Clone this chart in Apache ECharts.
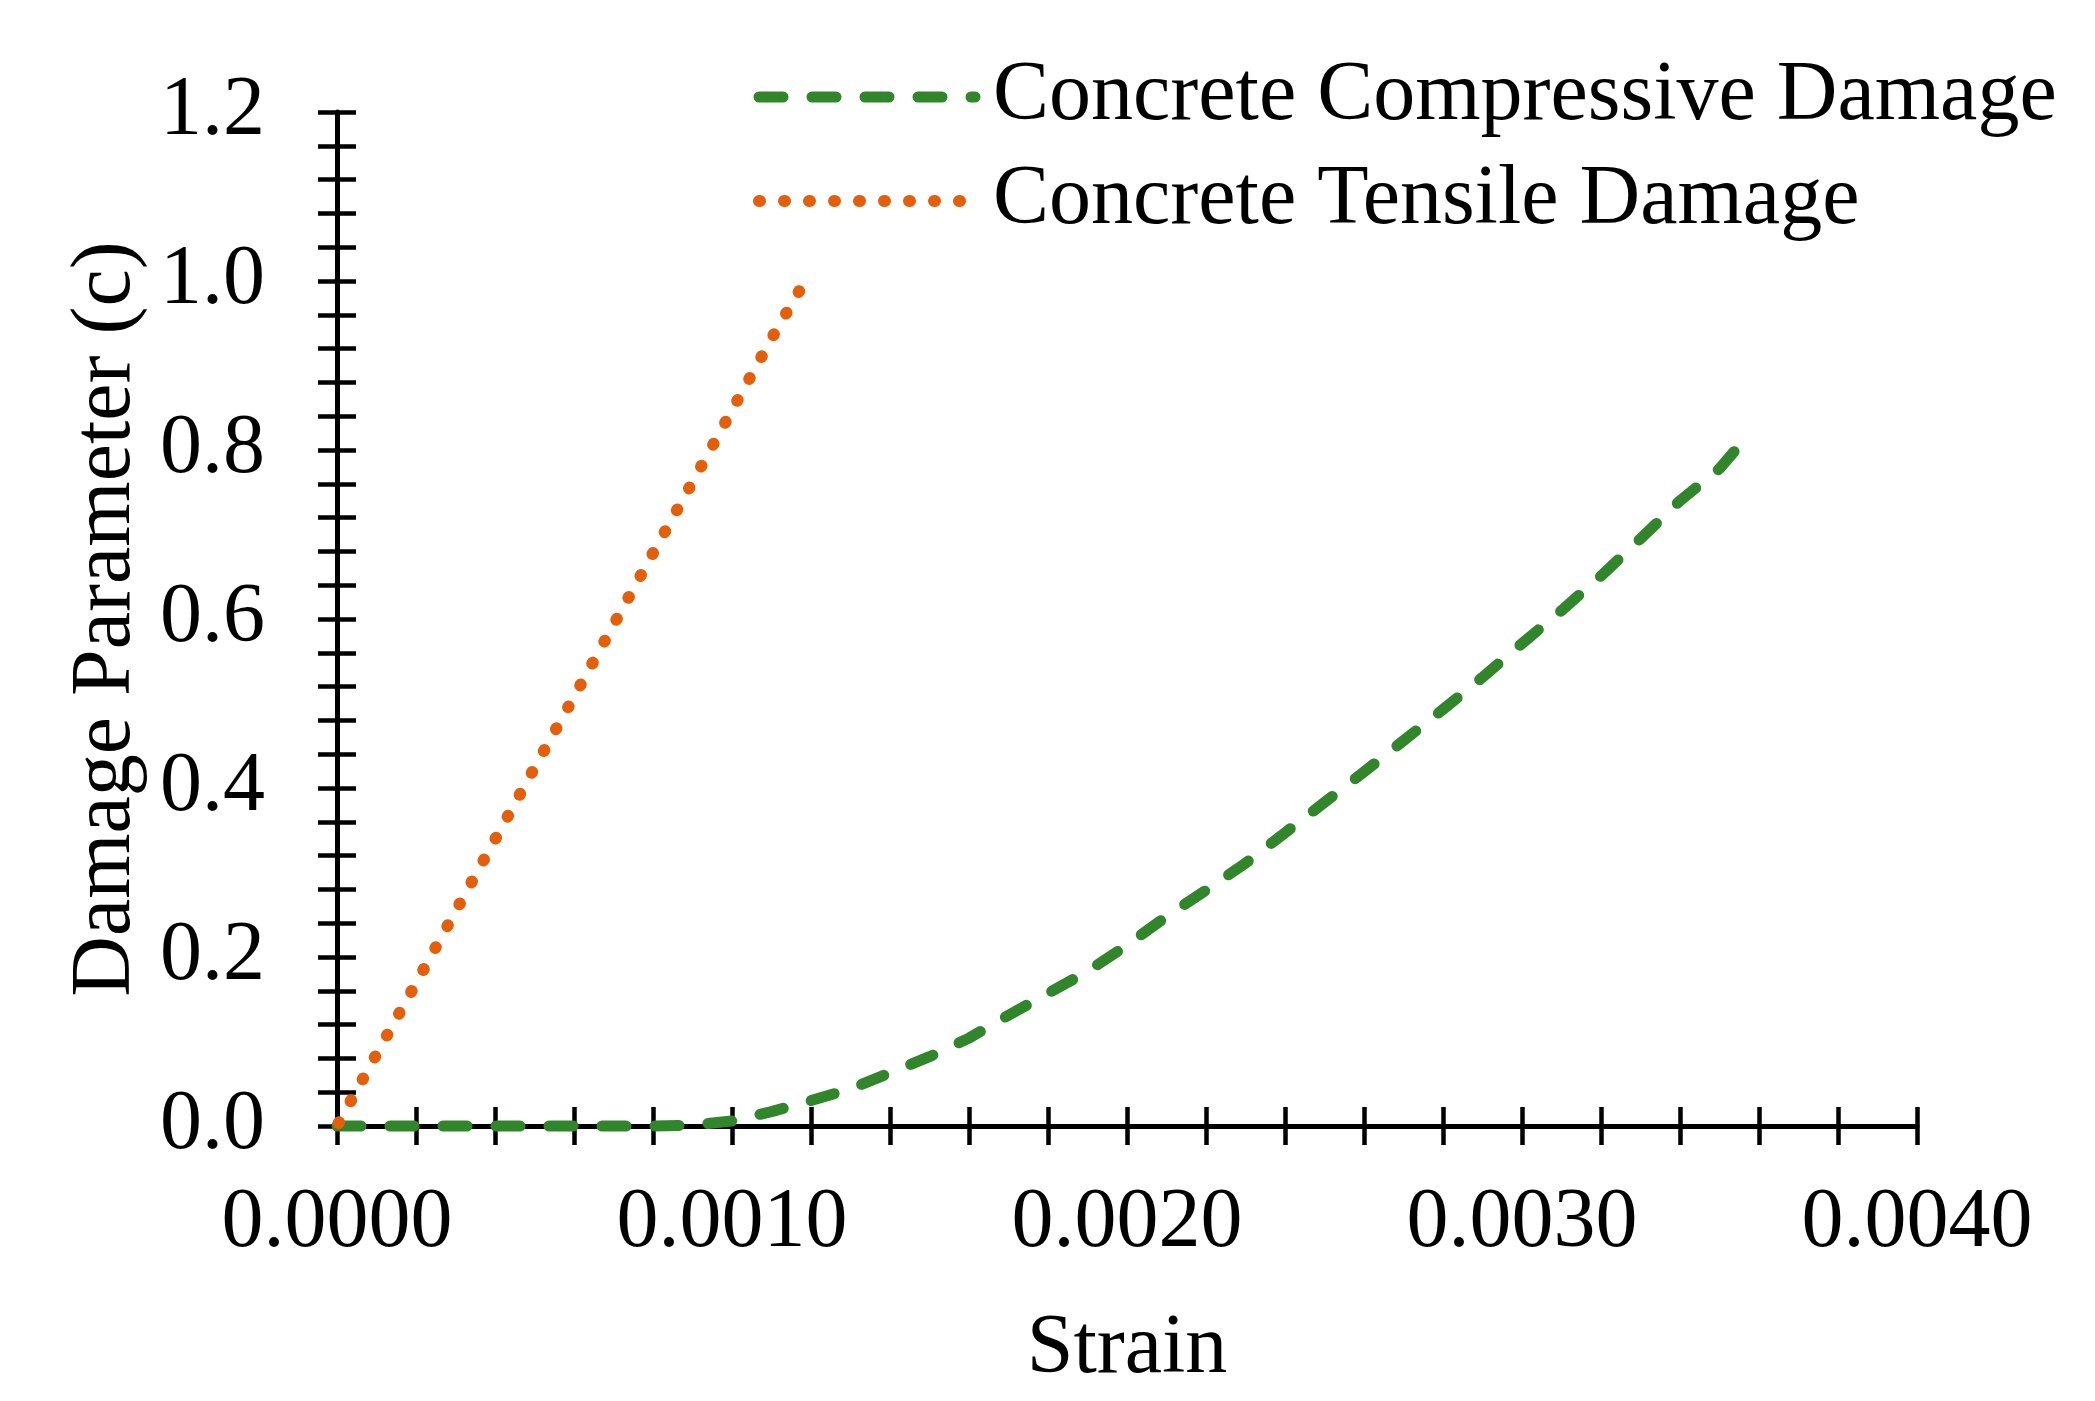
<!DOCTYPE html>
<html>
<head>
<meta charset="utf-8">
<script src="https://cdn.jsdelivr.net/npm/echarts@6/dist/echarts.min.js"></script>
<style>
html,body{margin:0;padding:0;background:#fff;}
#chart{width:2095px;height:1401px;}
</style>
</head>
<body>
<div id="chart"></div>
<script>
// ---- Data ----
const seriesNames = ['Concrete Compressive Damage', 'Concrete Tensile Damage'];
const compStrain = [0, 0.0001, 0.0002, 0.0003, 0.0004, 0.0005, 0.0006, 0.0007, 0.0008, 0.0009, 0.0010, 0.0011, 0.0012, 0.0013, 0.0014, 0.0015, 0.0016, 0.0017, 0.0018, 0.0019, 0.0020, 0.0021, 0.0022, 0.0023, 0.0024, 0.0025, 0.0026, 0.0027, 0.0028, 0.0029, 0.0030, 0.0031, 0.0032, 0.0033, 0.0034, 0.0035, 0.00355];
const compDamage = [0, 0, 0, 0, 0, 0, 0, 0, 0, 0.001, 0.006, 0.017, 0.030, 0.044, 0.063, 0.082, 0.104, 0.131, 0.157, 0.183, 0.214, 0.248, 0.279, 0.311, 0.347, 0.383, 0.419, 0.456, 0.493, 0.531, 0.571, 0.610, 0.651, 0.695, 0.740, 0.778, 0.805];
const tensStrain = [0, 0.0001, 0.0002, 0.0003, 0.0004, 0.0005, 0.0006, 0.0007, 0.0008, 0.0009, 0.0010, 0.0011, 0.00117];
const tensDamage = [0, 0.085, 0.169, 0.254, 0.339, 0.424, 0.508, 0.593, 0.678, 0.762, 0.847, 0.932, 0.988];
const xTickLabels = ['0.0000', '0.0010', '0.0020', '0.0030', '0.0040'];
const yTickLabels = ['0.0', '0.2', '0.4', '0.6', '0.8', '1.0', '1.2'];
const xAxisTitle = 'Strain';
const yAxisTitle = 'Damage Parameter (c)';

// ---- Chart ----
const FONT = '"Liberation Serif", "Times New Roman", serif';
const FS = 84;
const GREEN = '#31862B';
const ORANGE = '#E45F0B';
const greenLine = {color: GREEN, width: 11, type: [24, 29], cap: 'round', join: 'round'};
const orangeLine = {color: ORANGE, width: 12, type: [1, 24], cap: 'round', join: 'round'};

const chart = echarts.init(document.getElementById('chart'), null, {renderer: 'canvas', width: 2095, height: 1401});

function pair(xs, ys) { return xs.map((x, i) => [x, ys[i]]); }

const tickStyle = {color: '#000', width: 4.5};
const xBase = {type: 'value', min: 0, max: 0.004, interval: 0.0002, gridIndex: 0, position: 'bottom', splitLine: {show: false}};
const yBase = {type: 'value', min: 0, max: 1.2, interval: 0.04, gridIndex: 0, position: 'left', splitLine: {show: false}};

const option = {
  animation: false,
  backgroundColor: '#ffffff',
  grid: {left: 337, right: 178, top: 112, bottom: 275, containLabel: false},
  legend: {
    orient: 'vertical', left: 748, top: 50,
    itemWidth: 216, itemHeight: 24, itemGap: 20,
    textStyle: {fontFamily: FONT, fontSize: FS, color: '#000', lineHeight: FS, padding: [0, 0, 0, 13]},
    data: [
      {name: seriesNames[0], itemStyle: {opacity: 0}, lineStyle: greenLine},
      {name: seriesNames[1], itemStyle: {opacity: 0}, lineStyle: orangeLine}
    ]
  },
  xAxis: [
    Object.assign({}, xBase, {
      name: xAxisTitle, nameLocation: 'middle', nameGap: 182,
      nameTextStyle: {fontFamily: FONT, fontSize: FS, color: '#000'},
      axisLine: {show: true, lineStyle: {color: '#000', width: 5}},
      axisTick: {show: true, inside: false, length: 19, lineStyle: tickStyle},
      axisLabel: {
        show: true, interval: 0, margin: 56, fontFamily: FONT, fontSize: FS, color: '#000',
        formatter: function (v) {
          const k = Math.round(v * 10000);
          return k % 10 === 0 ? xTickLabels[k / 10] : '';
        }
      }
    }),
    Object.assign({}, xBase, {
      axisLine: {show: false},
      axisTick: {show: true, inside: true, length: 19, lineStyle: tickStyle},
      axisLabel: {show: false}
    })
  ],
  yAxis: [
    Object.assign({}, yBase, {
      name: yAxisTitle, nameLocation: 'middle', nameGap: 182,
      nameTextStyle: {fontFamily: FONT, fontSize: FS, color: '#000'},
      axisLine: {show: true, lineStyle: {color: '#000', width: 5}},
      axisTick: {show: true, inside: false, length: 19, lineStyle: tickStyle},
      axisLabel: {
        show: true, interval: 0, margin: 72, fontFamily: FONT, fontSize: FS, color: '#000',
        formatter: function (v) {
          const k = Math.round(v * 100);
          return k % 20 === 0 ? yTickLabels[k / 20] : '';
        }
      }
    }),
    Object.assign({}, yBase, {
      axisLine: {show: false},
      axisTick: {show: true, inside: true, length: 19, lineStyle: tickStyle},
      axisLabel: {show: false}
    })
  ],
  series: [
    {
      name: seriesNames[0], type: 'line', xAxisIndex: 0, yAxisIndex: 0,
      data: pair(compStrain, compDamage),
      symbol: 'none', showSymbol: false, clip: false, z: 3,
      lineStyle: greenLine,
      itemStyle: {color: GREEN}
    },
    {
      name: seriesNames[1], type: 'line', xAxisIndex: 0, yAxisIndex: 0,
      // drawn from the end point back to the origin so a dot sits on the end point
      data: pair(tensStrain, tensDamage).reverse(),
      symbol: 'none', showSymbol: false, clip: false, z: 4,
      lineStyle: orangeLine,
      itemStyle: {color: ORANGE}
    }
  ]
};
chart.setOption(option);
</script>
</body>
</html>
